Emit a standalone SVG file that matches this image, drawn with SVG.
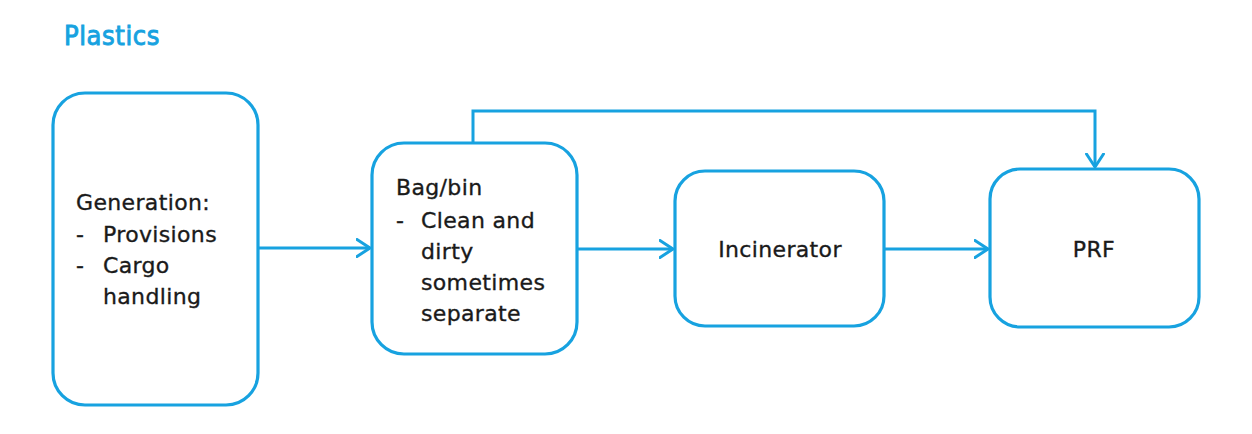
<svg xmlns="http://www.w3.org/2000/svg" width="1252" height="434" viewBox="0 0 1252 434">
  <style>
    .box { fill: #ffffff; stroke: #17a2e0; stroke-width: 3.2; }
    .conn { fill: none; stroke: #17a2e0; stroke-width: 3; }
    .lbl { font-family: "DejaVu Sans", Verdana, sans-serif; font-size: 22px; letter-spacing: 0.35px; fill: #1a1a1a; stroke: #1a1a1a; stroke-width: 0.35; }
    .title { font-family: "DejaVu Sans Condensed", "DejaVu Sans", sans-serif; font-stretch: condensed; font-size: 27px; letter-spacing: 0.6px; fill: #17a2e0; stroke: #17a2e0; stroke-width: 0.9; }
  </style>
  <defs>
    <marker id="arrow" viewBox="0 0 16 20" refX="14.5" refY="10" markerWidth="16" markerHeight="20" markerUnits="userSpaceOnUse" orient="auto">
      <path d="M1.5,1.5 L14.5,10 L1.5,18.5" fill="none" stroke="#17a2e0" stroke-width="3" stroke-linecap="round" stroke-linejoin="round"/>
    </marker>
  </defs>

  <rect width="1252" height="434" fill="#ffffff"/>

  <text class="title" x="64" y="45">Plastics</text>

  <g id="connectors">
    <line class="conn" x1="259" y1="248" x2="370" y2="248" marker-end="url(#arrow)"/>
    <line class="conn" x1="577" y1="249" x2="673" y2="249" marker-end="url(#arrow)"/>
    <line class="conn" x1="884" y1="249" x2="988" y2="249" marker-end="url(#arrow)"/>
    <polyline class="conn" points="473,143 473,111 1095,111 1095,167" marker-end="url(#arrow)"/>
  </g>

  <g id="generation">
    <rect class="box" x="53" y="93" width="205" height="312" rx="32" ry="32"/>
    <text class="lbl" x="76" y="210">Generation:</text>
    <text class="lbl" x="76" y="242">-</text>
    <text class="lbl" x="103" y="242">Provisions</text>
    <text class="lbl" x="76" y="273">-</text>
    <text class="lbl" x="103" y="273">Cargo</text>
    <text class="lbl" x="103" y="304">handling</text>
  </g>

  <g id="bag-bin">
    <rect class="box" x="372" y="143" width="205" height="211" rx="32" ry="32"/>
    <text class="lbl" x="396" y="195">Bag/bin</text>
    <text class="lbl" x="396" y="228">-</text>
    <text class="lbl" x="421" y="228">Clean and</text>
    <text class="lbl" x="421" y="259">dirty</text>
    <text class="lbl" x="421" y="290">sometimes</text>
    <text class="lbl" x="421" y="321">separate</text>
  </g>

  <g id="incinerator">
    <rect class="box" x="675" y="171" width="209" height="155" rx="30" ry="30"/>
    <text class="lbl" x="780" y="257" text-anchor="middle">Incinerator</text>
  </g>

  <g id="prf">
    <rect class="box" x="990" y="169" width="209" height="158" rx="30" ry="30"/>
    <text class="lbl" x="1094" y="257" text-anchor="middle">PRF</text>
  </g>
</svg>
